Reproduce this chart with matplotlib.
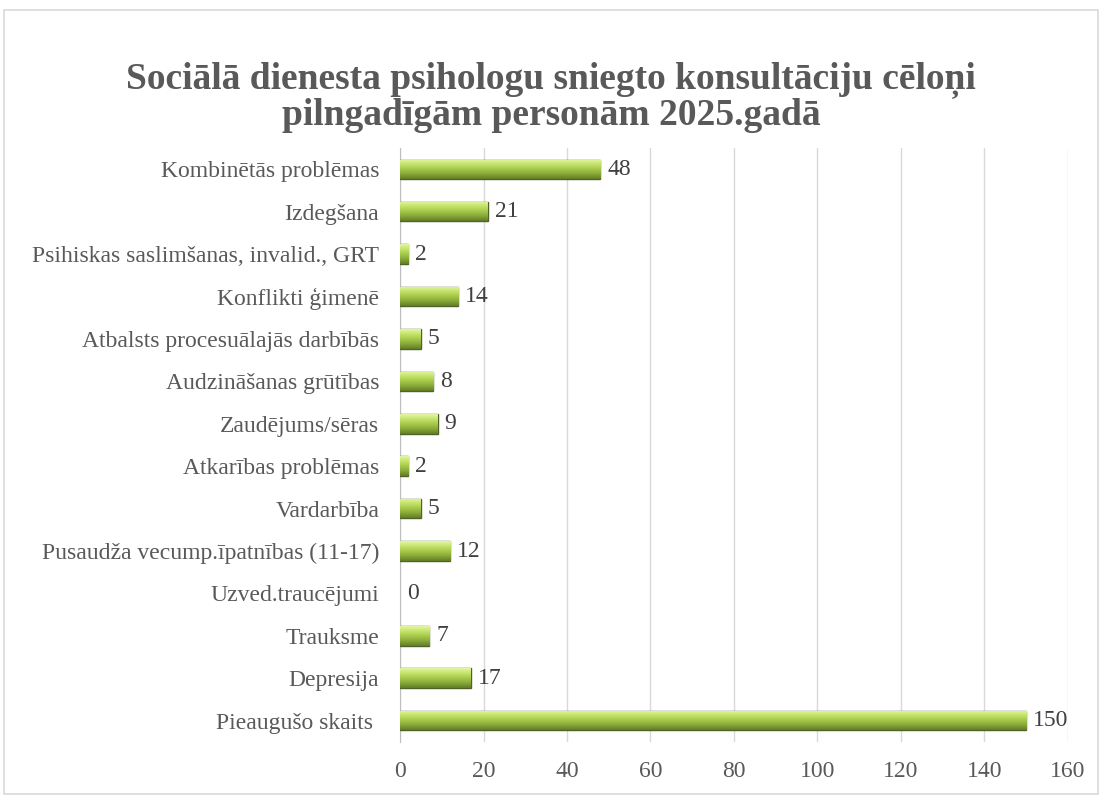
import numpy as np
import matplotlib
matplotlib.use("Agg")
import matplotlib.pyplot as plt
from matplotlib.patches import Rectangle
from matplotlib.colors import LinearSegmentedColormap

# dati (no augšas uz leju)
categories = [
    "Kombinētās problēmas",
    "Izdegšana",
    "Psihiskas saslimšanas, invalid., GRT",
    "Konflikti ģimenē",
    "Atbalsts procesuālajās darbībās",
    "Audzināšanas grūtības",
    "Zaudējums/sēras",
    "Atkarības problēmas",
    "Vardarbība",
    "Pusaudža vecump.īpatnības (11-17)",
    "Uzved.traucējumi",
    "Trauksme",
    "Depresija",
    "Pieaugušo skaits ",
]
values = [48, 21, 2, 14, 5, 8, 9, 2, 5, 12, 0, 7, 17, 150]
xticks = [0, 20, 40, 60, 80, 100, 120, 140, 160]

title = "Sociālā dienesta psihologu sniegto konsultāciju cēloņi\npilngadīgām personām 2025.gadā"

plt.rcParams['font.family'] = ['Liberation Serif', 'DejaVu Serif']

fig = plt.figure(figsize=(11.02, 7.96), dpi=100)
fig.patches.append(Rectangle((0.004, 0.003), 0.992, 0.985, transform=fig.transFigure,
                             fill=False, edgecolor='#d9d9d9', linewidth=1.2))
ax = fig.add_axes([0.363, 0.068, 0.606, 0.746])

y = np.arange(len(categories))[::-1]
bars = ax.barh(y, values, height=0.46, color='#9bbb59', edgecolor='#4f6228', linewidth=1.0, zorder=3)

# gradients stieņiem
grad = LinearSegmentedColormap.from_list('g', ['#e4f5a6', '#c4e36a', '#a6c94a', '#88a838', '#617d26'])
g = np.linspace(0, 1, 64).reshape(-1, 1)
for b in bars:
    if b.get_width() <= 0:
        b.set_visible(False)
        continue
    x0, y0 = b.get_x(), b.get_y()
    w, h = b.get_width(), b.get_height()
    im = ax.imshow(g, cmap=grad, aspect='auto', extent=(x0, x0 + w, y0, y0 + h),
                   origin='upper', zorder=3.5)
    im.set_clip_path(b)

for yi, v in zip(y, values):
    ax.annotate(str(v), (v, yi), xytext=(5, 0), textcoords='offset points',
                va='center', ha='left', fontsize=17, color='#404040')

ax.set_xlim(0, 160)
ax.set_ylim(-0.5, len(categories) - 0.5)
ax.set_xticks(xticks)
ax.set_yticks(y)
ax.set_yticklabels(categories)
ax.tick_params(axis='both', length=0, labelsize=17, labelcolor='#595959')
ax.tick_params(axis='x', pad=14)
ax.tick_params(axis='y', pad=15)
ax.grid(axis='x', color='#d9d9d9', linewidth=1.0, zorder=0)
ax.set_axisbelow(True)
for s in ['top', 'right', 'bottom']:
    ax.spines[s].set_visible(False)
ax.spines['left'].set_color('#bfbfbf')

fig.text(0.5, 0.878, title, ha='center', va='center', fontsize=27, fontweight='bold',
         color='#595959', linespacing=1.0)

fig.savefig("out.png", dpi=100)
